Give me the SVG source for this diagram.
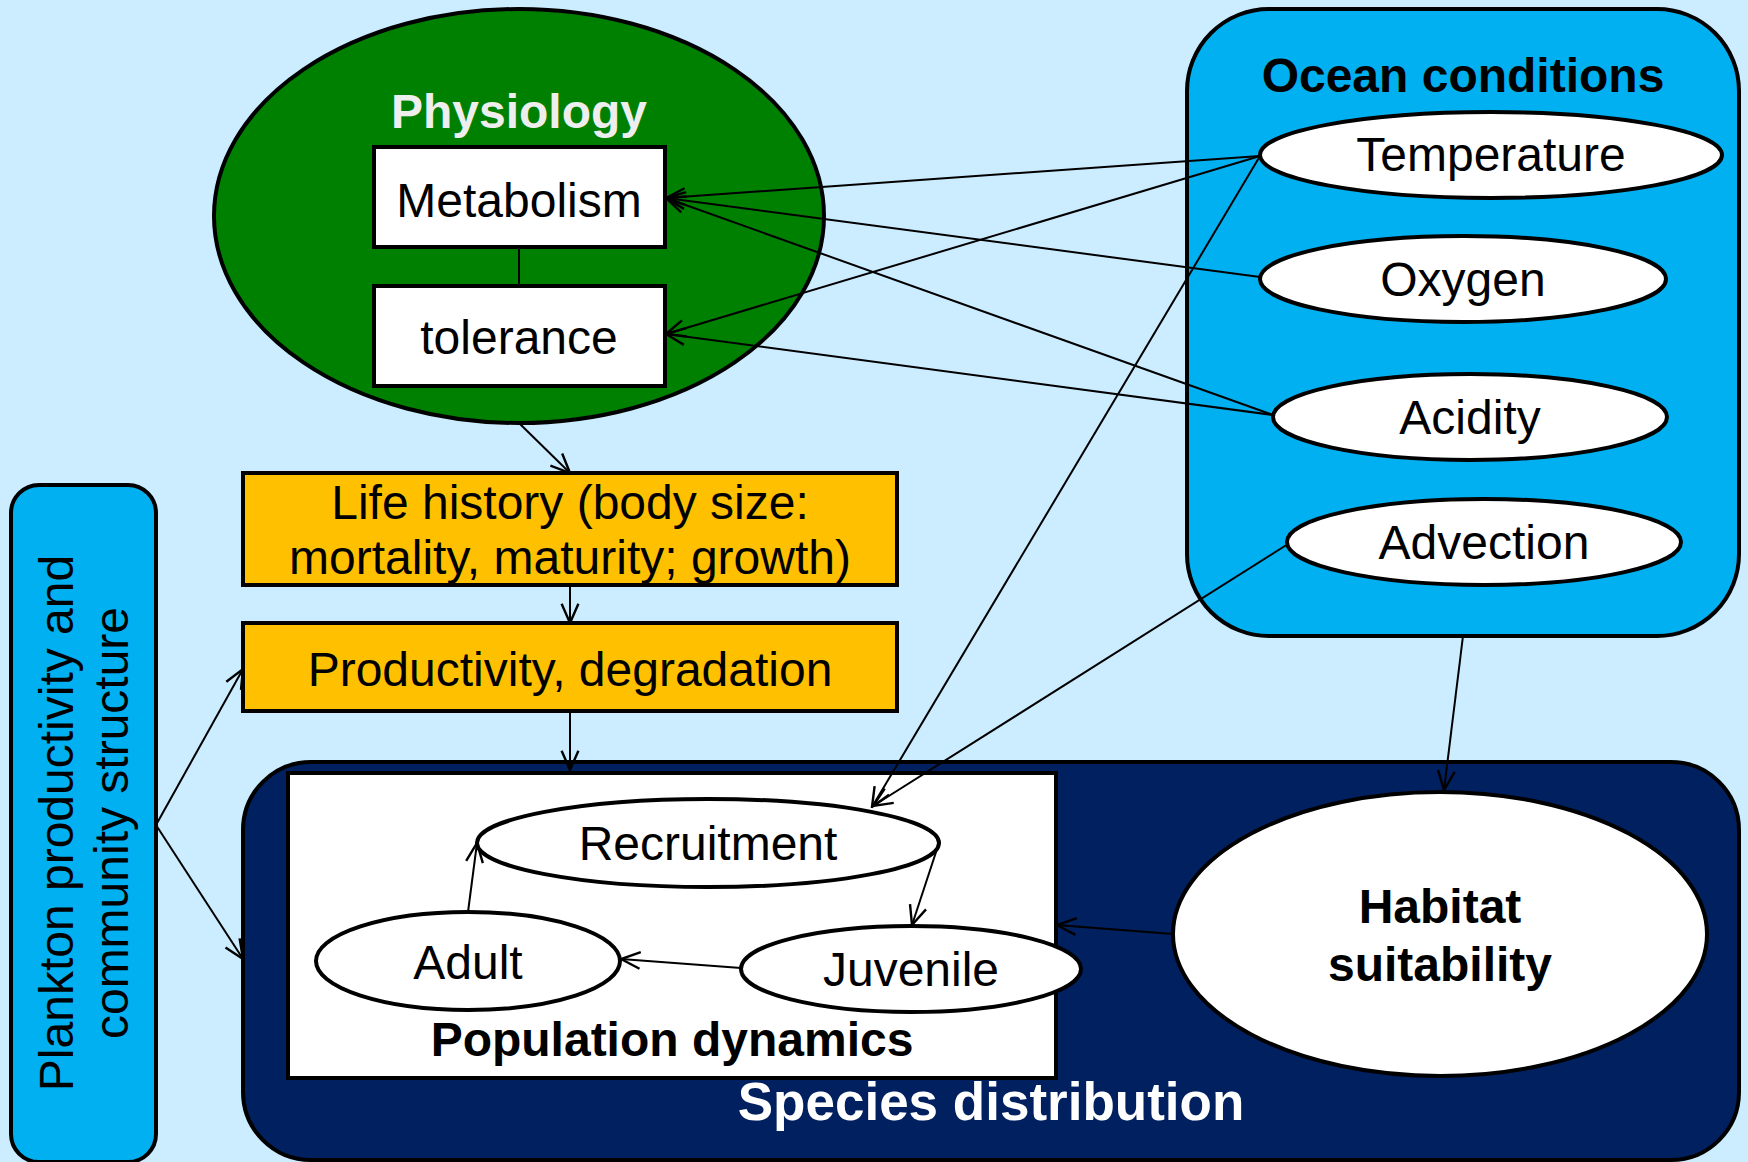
<svg xmlns="http://www.w3.org/2000/svg" width="1748" height="1162" viewBox="0 0 1748 1162">
<defs>
<marker id="arr" markerUnits="userSpaceOnUse" markerWidth="24" markerHeight="24" viewBox="0 0 20 20" refX="19" refY="10" orient="auto">
<path d="M3,3 L19,10 L3,17" fill="none" stroke="#000" stroke-width="2"/>
</marker>
<style>
text{font-family:"Liberation Sans",Arial,sans-serif;text-anchor:middle}
.t{font-size:48px;fill:#000}
.b{font-weight:bold;font-size:48px}
.node{stroke:#000;stroke-width:4}
.el{fill:#fff;stroke:#000;stroke-width:4}
.c{stroke:#000;stroke-width:2;fill:none}
.ca{stroke:#000;stroke-width:2;fill:none;marker-end:url(#arr)}
</style>
</defs>
<rect width="1748" height="1162" fill="#CCECFF"/>

<g id="physiology">
<ellipse cx="519" cy="216" rx="305" ry="207" fill="#008000" class="node"/>
<text x="519" y="128" class="b" fill="#EEEEEE">Physiology</text>
</g>
<g id="metabolism">
<rect x="374" y="147" width="291" height="100" fill="#fff" class="node"/>
<text x="519" y="217" class="t">Metabolism</text>
</g>
<g id="tolerance">
<rect x="374" y="286" width="291" height="100" fill="#fff" class="node"/>
<text x="519" y="354" class="t">tolerance</text>
</g>

<g id="ocean">
<rect x="1187" y="9" width="552" height="627" rx="82" fill="#00B0F0" class="node"/>
<text x="1463" y="92" class="b" fill="#000">Ocean conditions</text>
</g>
<g id="temperature">
<ellipse cx="1491" cy="155" rx="231" ry="43" class="el"/>
<text x="1491" y="171" class="t">Temperature</text>
</g>
<g id="oxygen">
<ellipse cx="1463" cy="279" rx="203" ry="43" class="el"/>
<text x="1463" y="296" class="t">Oxygen</text>
</g>
<g id="acidity">
<ellipse cx="1470" cy="417" rx="197" ry="43" class="el"/>
<text x="1470" y="434" class="t">Acidity</text>
</g>
<g id="advection">
<ellipse cx="1484" cy="542" rx="197" ry="43" class="el"/>
<text x="1484" y="559" class="t">Advection</text>
</g>

<g id="lifehistory">
<rect x="243" y="473" width="654" height="112" fill="#FFC000" class="node"/>
<text x="570" y="519" class="t">Life history (body size:</text>
<text x="570" y="574" class="t">mortality, maturity; growth)</text>
</g>
<g id="productivity">
<rect x="243" y="623" width="654" height="88" fill="#FFC000" class="node"/>
<text x="570" y="686" class="t">Productivity, degradation</text>
</g>

<g id="plankton">
<rect x="11" y="485" width="145" height="677" rx="28" fill="#00B0F0" class="node"/>
<text transform="translate(73,823) rotate(-90)" class="t">Plankton productivity and</text>
<text transform="translate(128,823) rotate(-90)" class="t">community structure</text>
</g>

<g id="species">
<rect x="243" y="762" width="1496" height="398" rx="68" fill="#002060" class="node"/>
<text x="991" y="1120" class="b" style="font-size:53px" fill="#fff">Species distribution</text>
</g>
<g id="population">
<rect x="288" y="773" width="768" height="305" fill="#fff" class="node"/>
<text x="672" y="1056" class="b" fill="#000">Population dynamics</text>
</g>
<g id="recruitment">
<ellipse cx="708" cy="843" rx="231" ry="44" class="el"/>
<text x="708" y="860" class="t">Recruitment</text>
</g>
<g id="adult">
<ellipse cx="468" cy="961" rx="152" ry="49" class="el"/>
<text x="468" y="979" class="t">Adult</text>
</g>
<g id="juvenile">
<ellipse cx="911" cy="969" rx="170" ry="43" class="el"/>
<text x="911" y="986" class="t">Juvenile</text>
</g>
<g id="habitat">
<ellipse cx="1440" cy="934" rx="267" ry="142" class="el"/>
<text x="1440" y="923" class="b" fill="#000">Habitat</text>
<text x="1440" y="981" class="b" fill="#000">suitability</text>
</g>

<g id="connectors">
<line x1="519" y1="247" x2="519" y2="286" class="c"/>
<line x1="1260" y1="156" x2="666" y2="198" class="ca"/>
<line x1="1260" y1="156" x2="666" y2="334" class="ca"/>
<line x1="1260" y1="277" x2="666" y2="198" class="ca"/>
<line x1="1273" y1="415" x2="666" y2="198" class="ca"/>
<line x1="1273" y1="415" x2="666" y2="334" class="ca"/>
<line x1="1260" y1="156" x2="872" y2="807" class="ca"/>
<line x1="1288" y1="544" x2="873" y2="806" class="ca"/>
<line x1="520" y1="424" x2="570" y2="473" class="ca"/>
<line x1="570" y1="585" x2="570" y2="623" class="ca"/>
<line x1="570" y1="711" x2="570" y2="770" class="ca"/>
<line x1="156" y1="825" x2="243" y2="669" class="ca"/>
<line x1="156" y1="825" x2="243" y2="959" class="ca"/>
<line x1="1463" y1="636" x2="1444" y2="790" class="ca"/>
<line x1="1173" y1="934" x2="1057" y2="925" class="ca"/>
<line x1="468" y1="912" x2="477" y2="843" class="ca"/>
<line x1="939" y1="843" x2="912" y2="925" class="ca"/>
<line x1="741" y1="968" x2="621" y2="959" class="ca"/>
</g>
</svg>
